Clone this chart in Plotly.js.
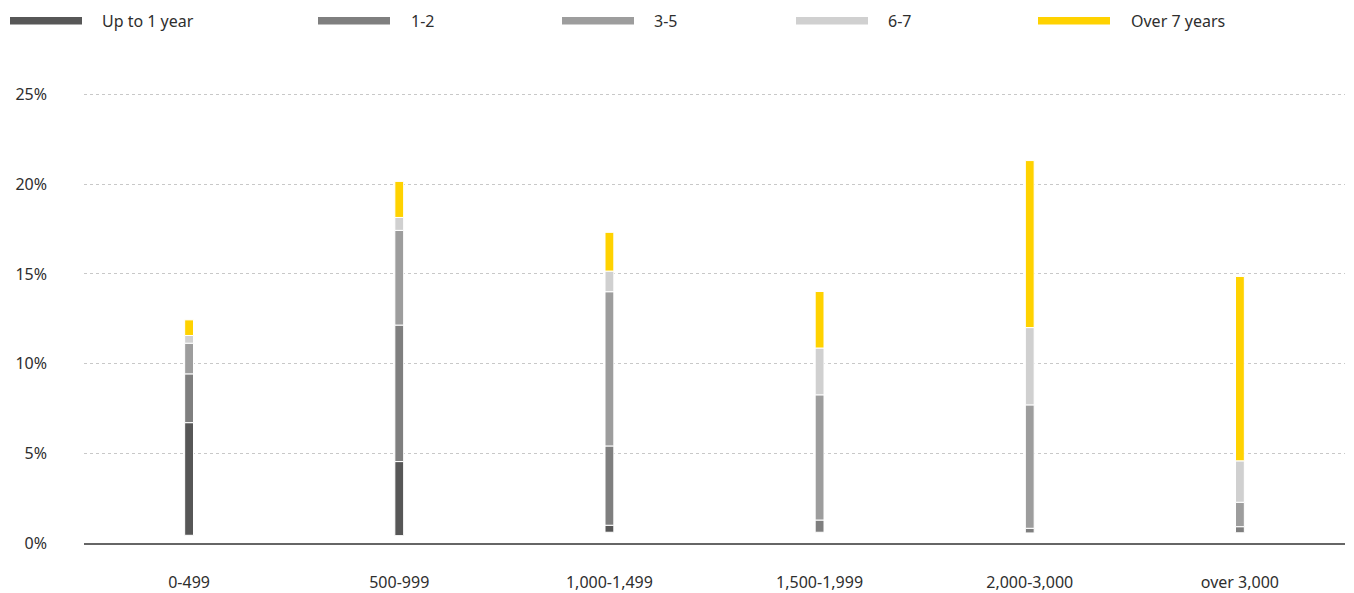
<!DOCTYPE html>
<html>
<head>
<meta charset="utf-8">
<script src="https://cdn.plot.ly/plotly-3.0.1.min.js"></script>
<style>html,body{margin:0;padding:0;background:#fff;}#chart{width:1354px;height:593px;}</style>
</head>
<body>
<div id="chart"></div>
<script>
// Data (percent)
const categories = ["0-499", "500-999", "1,000-1,499", "1,500-1,999", "2,000-3,000", "over 3,000"];
const seriesNames = ["Up to 1 year", "1-2", "3-5", "6-7", "Over 7 years"];
const startOffset = [0.43, 0.41, 0.60, 0.60, 0.56, 0.57];
const upTo1Year = [6.28, 4.13, 0.39, 0, 0, 0];
const years1to2 = [2.72, 7.61, 4.42, 0.68, 0.26, 0.34];
const years3to5 = [1.71, 5.28, 8.60, 6.98, 6.88, 1.36];
const years6to7 = [0.43, 0.72, 1.15, 2.61, 4.31, 2.31];
const over7Years = [0.87, 2.01, 2.16, 3.15, 9.31, 10.28];
const yTickVals = [0, 5, 10, 15, 20, 25];
const yTickText = ["0%", "5%", "10%", "15%", "20%", "25%"];

const colors = ["#575757", "#7f7f7f", "#9d9d9d", "#d0d0d0", "#ffd200"];
const series = [upTo1Year, years1to2, years3to5, years6to7, over7Years];

// Layout geometry (pixels)
const W = 1354, H = 593;
const M = {l: 84, r: 9, t: 91, b: 50};
const plotW = W - M.l - M.r, plotH = H - M.t - M.b;
const px = x => (x - M.l) / plotW;
const py = y => (H - M.b - y) / plotH;

const traces = [];
let running = startOffset.slice();
series.forEach((vals, i) => {
  traces.push({
    type: "bar",
    name: seriesNames[i],
    x: categories,
    y: vals,
    base: running.slice(),
    width: 0.042,
    marker: {color: colors[i], line: {color: "#ffffff", width: 1}},
    showlegend: false,
    hovertemplate: "%{x}: %{y:.1f}%<extra>" + seriesNames[i] + "</extra>"
  });
  running = running.map((b, k) => b + vals[k]);
});

// Manual legend (long bar symbols)
const legendSym = [10, 318, 562, 796, 1038];
const legendTxt = [100, 409, 652, 886, 1129];
const shapes = [], annotations = [];
seriesNames.forEach((n, i) => {
  shapes.push({type: "rect", xref: "paper", yref: "paper",
    x0: px(legendSym[i]), x1: px(legendSym[i] + 72), y0: py(24.5), y1: py(17),
    fillcolor: colors[i], line: {width: 0}});
  annotations.push({xref: "paper", yref: "paper", x: px(legendTxt[i]), y: py(21),
    xanchor: "left", yanchor: "middle", showarrow: false, text: n,
    font: {family: "Noto Sans", size: 16, color: "#2e2e2e"}});
});

const layout = {
  width: W, height: H,
  margin: M,
  paper_bgcolor: "#ffffff", plot_bgcolor: "#ffffff",
  barmode: "overlay",
  showlegend: false,
  font: {family: "Noto Sans", size: 16, color: "#2e2e2e"},
  xaxis: {
    type: "category",
    showgrid: false,
    showline: true, linecolor: "#666666", linewidth: 1.5,
    ticks: "", ticklabelstandoff: 24,
    tickfont: {family: "Noto Sans", size: 16, color: "#2e2e2e"},
    fixedrange: true
  },
  yaxis: {
    range: [0, 25.2],
    tickvals: yTickVals, ticktext: yTickText,
    showgrid: true, gridcolor: "#c8c8c8", gridwidth: 1, griddash: "dot",
    zeroline: false, showline: false, ticks: "",
    ticklabelstandoff: 36,
    tickfont: {family: "Noto Sans", size: 16, color: "#2e2e2e"},
    fixedrange: true
  },
  shapes: shapes,
  annotations: annotations
};

Plotly.newPlot("chart", traces, layout, {displayModeBar: false, staticPlot: true});
</script>
</body>
</html>
